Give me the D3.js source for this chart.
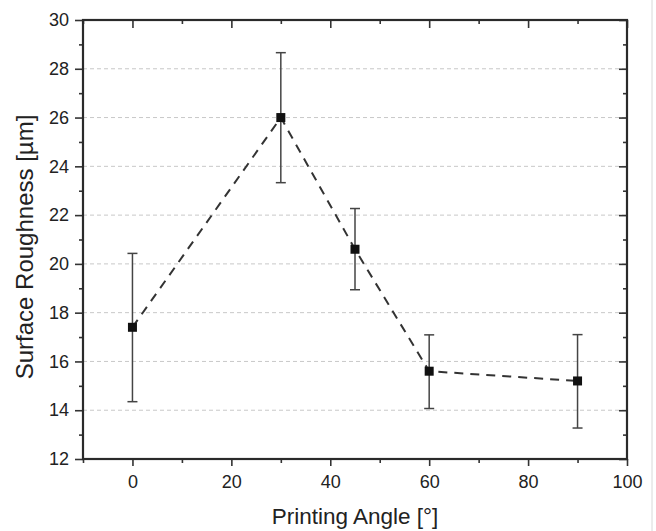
<!DOCTYPE html>
<html>
<head>
<meta charset="utf-8">
<script src="https://cdn.jsdelivr.net/npm/d3@7"></script>
<style>
  body { margin: 0; background: #fff; }
  svg { display: block; font-family: "Liberation Sans", Arial, sans-serif; }
</style>
</head>
<body>
<svg id="chart" width="656" height="531"></svg>
<script>
// printing angle vs surface roughness
var angles = [0, 30, 45, 60, 90];
var roughness = [17.4, 26.0, 20.6, 15.6, 15.2];
var errLow = [14.35, 23.33, 18.94, 14.07, 13.27];
var errHigh = [20.43, 28.66, 22.27, 17.09, 17.1];
var xTicks = [0, 20, 40, 60, 80, 100];
var yTicks = [12, 14, 16, 18, 20, 22, 24, 26, 28, 30];

var svg = d3.select("#chart");
var margin = {top: 20, right: 29, bottom: 72, left: 83};
var width = 656 - margin.left - margin.right,
    height = 531 - margin.top - margin.bottom;

var x = d3.scaleLinear().domain([-10, 100]).range([0, width]);
var y = d3.scaleLinear().domain([12, 30]).range([height, 0]);

// thin grey frame line at the right edge of the image
svg.append("line")
  .attr("x1", 652).attr("x2", 652).attr("y1", 0).attr("y2", 531)
  .attr("stroke", "#d8d8d8").attr("stroke-width", 1);

var g = svg.append("g").attr("transform", "translate(" + margin.left + "," + margin.top + ")");

// dashed horizontal grid
g.selectAll("line.grid")
  .data(yTicks.filter(function(d) { return d > 12 && d < 30; }))
  .enter().append("line")
  .attr("class", "grid")
  .attr("x1", 0).attr("x2", width)
  .attr("y1", y).attr("y2", y)
  .attr("stroke", "#c8c8c8")
  .attr("stroke-width", 1)
  .attr("stroke-dasharray", "4,3");

var minorX = d3.range(-10, 101, 10).filter(function(d) { return d % 20 !== 0; });
var minorY = d3.range(13, 30, 2);

function styleAxis(sel) {
  sel.select(".domain").remove();
  sel.selectAll("line").attr("stroke", "#333").attr("stroke-width", 1.6);
  sel.selectAll("text").attr("fill", "#222").style("font-size", "18px");
}

// bottom axis
g.append("g").attr("transform", "translate(0," + height + ")")
  .call(d3.axisBottom(x).tickValues(xTicks).tickSize(7).tickPadding(9).tickFormat(d3.format("d")))
  .call(styleAxis);
g.append("g").attr("transform", "translate(0," + height + ")")
  .call(d3.axisBottom(x).tickValues(minorX).tickSize(4).tickFormat(""))
  .call(styleAxis);

// left axis
g.append("g")
  .call(d3.axisLeft(y).tickValues(yTicks).tickSize(8).tickPadding(6).tickFormat(d3.format("d")))
  .call(styleAxis);
g.append("g")
  .call(d3.axisLeft(y).tickValues(minorY).tickSize(4).tickFormat(""))
  .call(styleAxis);

// top axis, ticks inward
g.append("g")
  .call(d3.axisBottom(x).tickValues(xTicks).tickSize(8).tickFormat(""))
  .call(styleAxis);
g.append("g")
  .call(d3.axisBottom(x).tickValues(minorX).tickSize(4).tickFormat(""))
  .call(styleAxis);

// right axis, ticks inward
g.append("g").attr("transform", "translate(" + width + ",0)")
  .call(d3.axisLeft(y).tickValues(yTicks).tickSize(8).tickFormat(""))
  .call(styleAxis);
g.append("g").attr("transform", "translate(" + width + ",0)")
  .call(d3.axisLeft(y).tickValues(minorY).tickSize(4).tickFormat(""))
  .call(styleAxis);

// frame
g.append("rect")
  .attr("width", width).attr("height", height)
  .attr("fill", "none").attr("stroke", "#2a2a2a").attr("stroke-width", 2.2);

var pts = angles.map(function(a, i) {
  return {a: a, v: roughness[i], lo: errLow[i], hi: errHigh[i]};
});

// connecting dashed line
g.append("path")
  .datum(pts)
  .attr("fill", "none")
  .attr("stroke", "#333")
  .attr("stroke-width", 2)
  .attr("stroke-dasharray", "9,7")
  .attr("d", d3.line().x(function(d) { return x(d.a); }).y(function(d) { return y(d.v); }));

// error bars
var eb = g.selectAll("g.err").data(pts).enter().append("g").attr("class", "err")
  .attr("stroke", "#444").attr("stroke-width", 1.5);
eb.append("line")
  .attr("x1", function(d) { return x(d.a); }).attr("x2", function(d) { return x(d.a); })
  .attr("y1", function(d) { return y(d.lo); }).attr("y2", function(d) { return y(d.hi); });
eb.append("line")
  .attr("x1", function(d) { return x(d.a) - 5; }).attr("x2", function(d) { return x(d.a) + 5; })
  .attr("y1", function(d) { return y(d.hi); }).attr("y2", function(d) { return y(d.hi); });
eb.append("line")
  .attr("x1", function(d) { return x(d.a) - 5; }).attr("x2", function(d) { return x(d.a) + 5; })
  .attr("y1", function(d) { return y(d.lo); }).attr("y2", function(d) { return y(d.lo); });

// square markers
g.selectAll("rect.pt").data(pts).enter().append("rect")
  .attr("class", "pt")
  .attr("x", function(d) { return x(d.a) - 4.5; })
  .attr("y", function(d) { return y(d.v) - 4.5; })
  .attr("width", 9).attr("height", 9)
  .attr("fill", "#111");

// axis titles
svg.append("text")
  .attr("x", margin.left + x(45)).attr("y", 524)
  .attr("text-anchor", "middle")
  .attr("fill", "#222")
  .style("font-size", "22.5px")
  .text("Printing Angle [°]");

svg.append("text")
  .attr("transform", "translate(33,247) rotate(-90)")
  .attr("text-anchor", "middle")
  .attr("fill", "#222")
  .style("font-size", "24px")
  .text("Surface Roughness [µm]");
</script>
</body>
</html>
